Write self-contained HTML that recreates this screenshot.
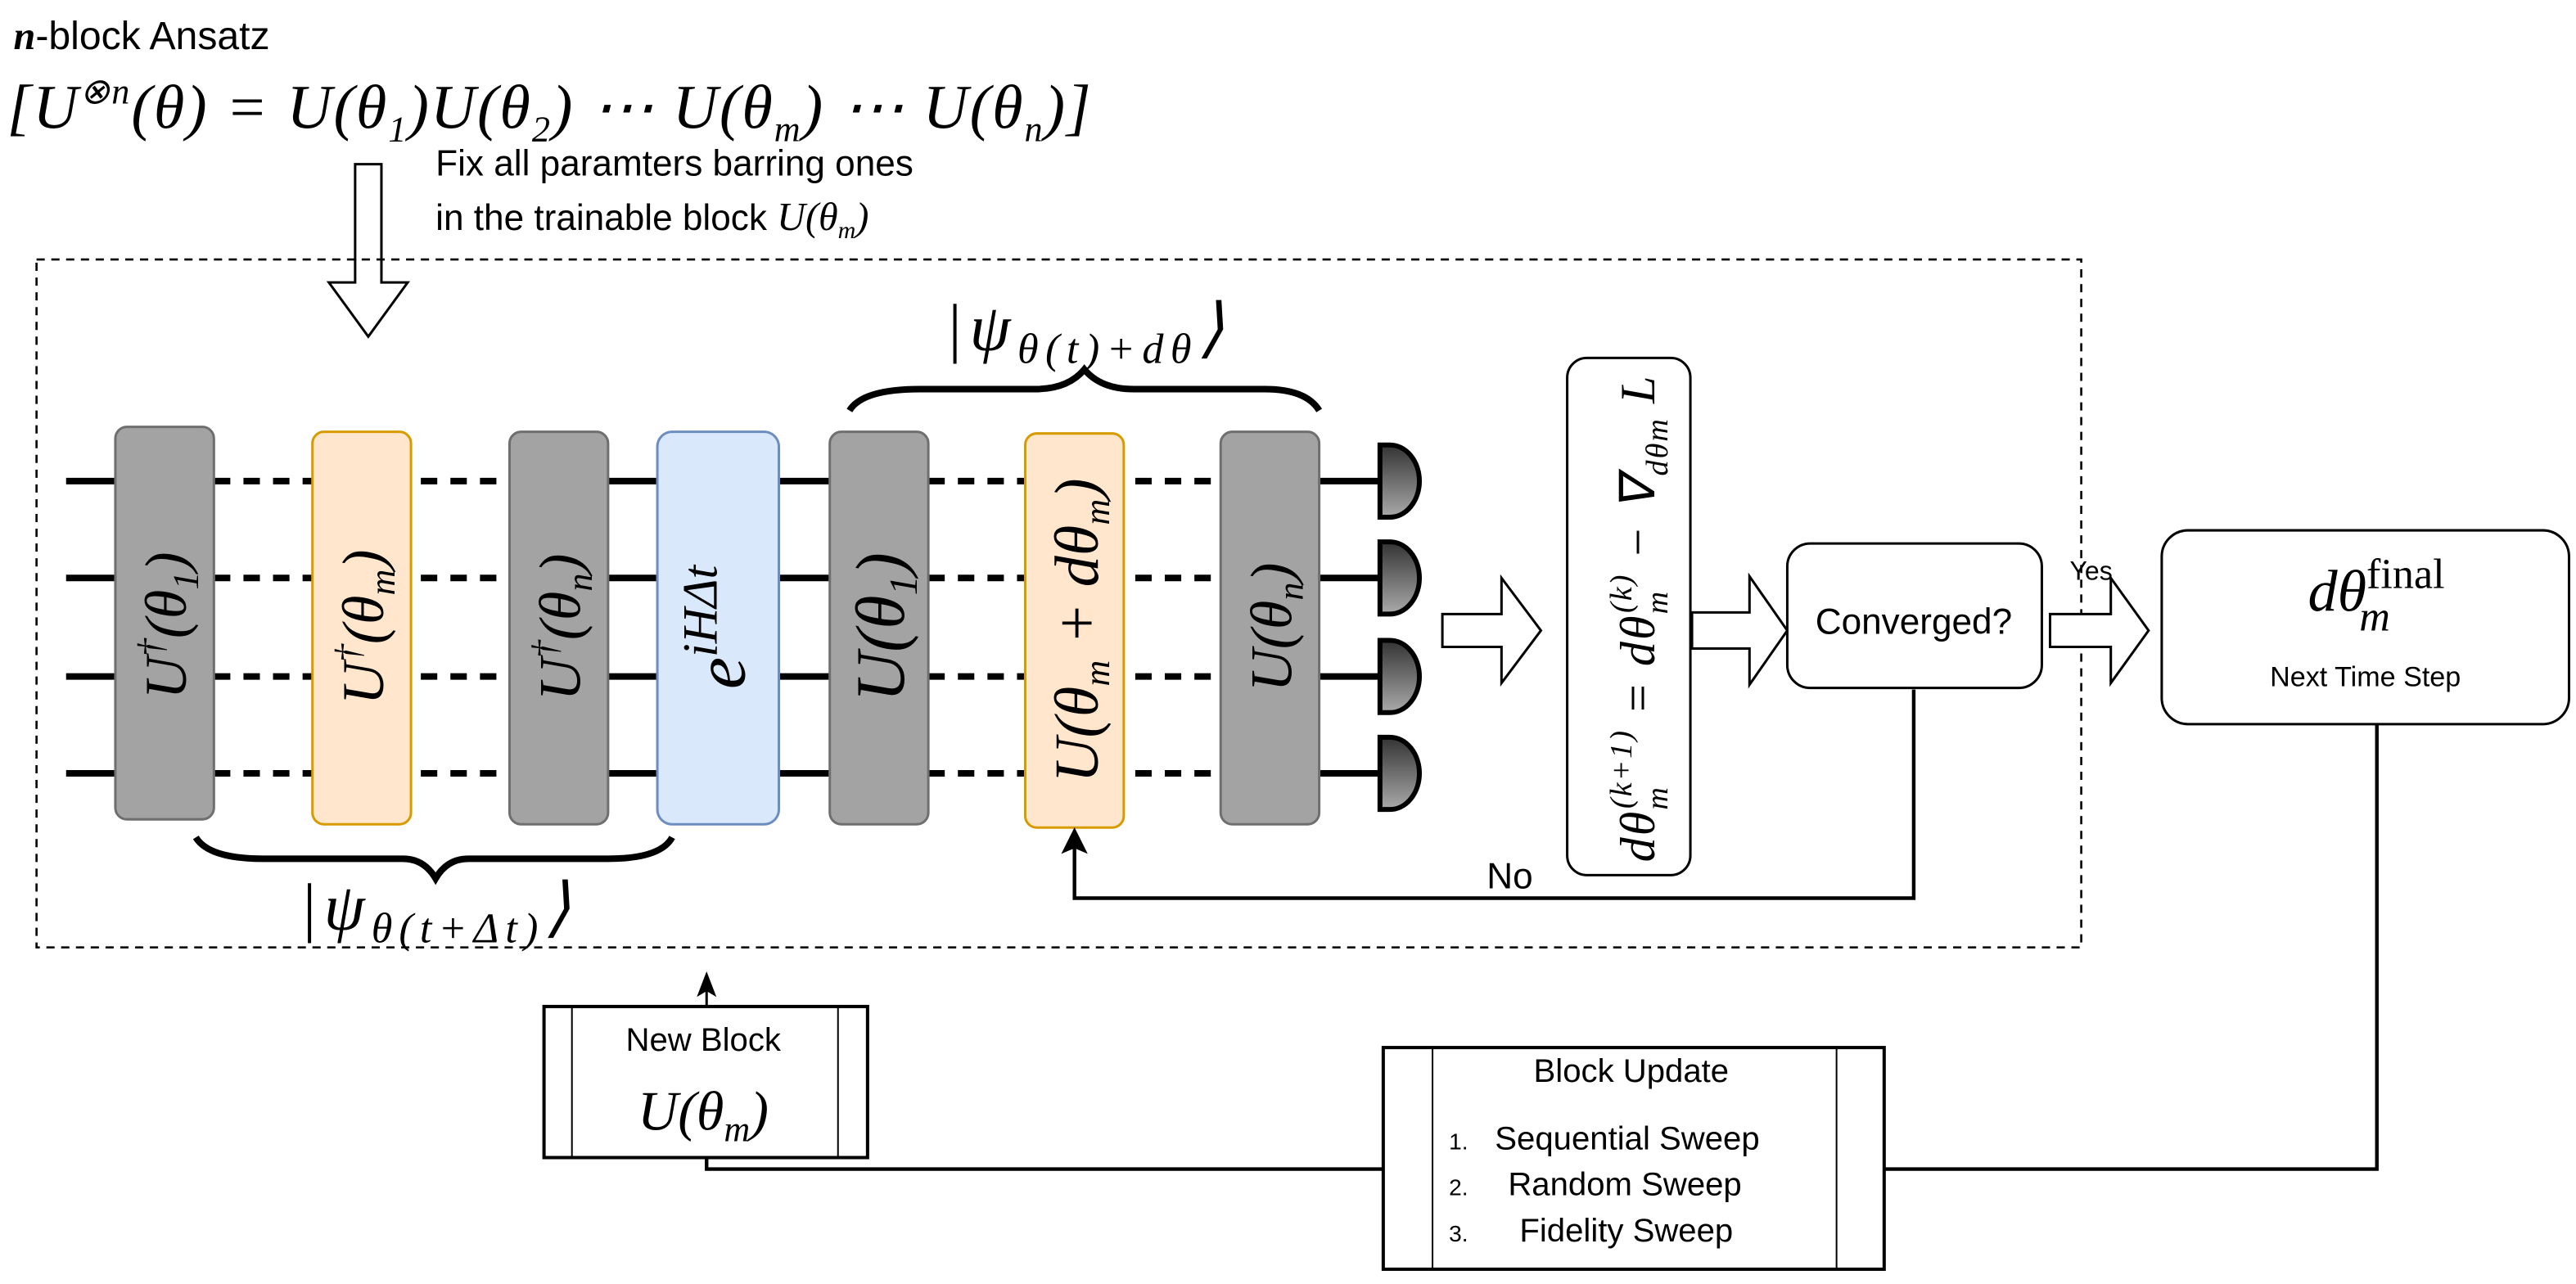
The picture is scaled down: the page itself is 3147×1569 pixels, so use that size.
<!DOCTYPE html>
<html><head><meta charset="utf-8"><style>
html,body{margin:0;padding:0;background:#fff;}
svg{display:block}
.m{font-family:"Liberation Serif",serif;font-style:italic}
.s{font-family:"Liberation Sans",sans-serif}
</style></head><body>
<svg width="3147" height="1569" viewBox="0 0 1568 782" xmlns="http://www.w3.org/2000/svg">
<defs>
<linearGradient id="g" x1="0" y1="0" x2="0" y2="1"><stop offset="0" stop-color="#333"/><stop offset="1" stop-color="#aaa"/></linearGradient>
</defs>
<rect width="1568" height="782" fill="#fff"/>
<!-- title -->
<text x="8" y="30" font-size="24" class="s"><tspan class="m" font-weight="bold">n</tspan>-block Ansatz</text>
<text x="4" y="78" font-size="38" class="m" textLength="660" lengthAdjust="spacing">[U<tspan font-size="22" dy="-15">⊗n</tspan><tspan dy="15">(θ) = U(θ</tspan><tspan font-size="22" dy="8">1</tspan><tspan dy="-8">)U(θ</tspan><tspan font-size="22" dy="8">2</tspan><tspan dy="-8">) ⋯ U(θ</tspan><tspan font-size="22" dy="8">m</tspan><tspan dy="-8">) ⋯ U(θ</tspan><tspan font-size="22" dy="8">n</tspan><tspan dy="-8">)]</tspan></text>
<text x="265" y="107" font-size="22" class="s">Fix all paramters barring ones</text>
<text x="265" y="140" font-size="22" class="s">in the trainable block <tspan class="m" font-size="24">U(θ<tspan font-size="15" dy="5">m</tspan><tspan dy="-5">)</tspan></tspan></text>
<!-- hollow down arrow -->
<path d="M216,100 H232 V172 H248 L224,205 L200,172 H216 Z" fill="#fff" stroke="#000" stroke-width="1.5"/>
<!-- dashed box -->
<rect x="22" y="158" width="1245" height="419" fill="none" stroke="#000" stroke-width="1.3" stroke-dasharray="5,4"/>
<!-- wires -->
<g stroke="#000" stroke-width="4">
<g transform="translate(0,293)">
<line x1="40" y1="0" x2="72" y2="0"/><line x1="130" y1="0" x2="310" y2="0" stroke-dasharray="10,8"/><line x1="368" y1="0" x2="402" y2="0"/><line x1="472" y1="0" x2="507" y2="0"/><line x1="565" y1="0" x2="743" y2="0" stroke-dasharray="10,8"/><line x1="801" y1="0" x2="842" y2="0"/>
</g>
<g transform="translate(0,352)">
<line x1="40" y1="0" x2="72" y2="0"/><line x1="130" y1="0" x2="310" y2="0" stroke-dasharray="10,8"/><line x1="368" y1="0" x2="402" y2="0"/><line x1="472" y1="0" x2="507" y2="0"/><line x1="565" y1="0" x2="743" y2="0" stroke-dasharray="10,8"/><line x1="801" y1="0" x2="842" y2="0"/>
</g>
<g transform="translate(0,412)">
<line x1="40" y1="0" x2="72" y2="0"/><line x1="130" y1="0" x2="310" y2="0" stroke-dasharray="10,8"/><line x1="368" y1="0" x2="402" y2="0"/><line x1="472" y1="0" x2="507" y2="0"/><line x1="565" y1="0" x2="743" y2="0" stroke-dasharray="10,8"/><line x1="801" y1="0" x2="842" y2="0"/>
</g>
<g transform="translate(0,471)">
<line x1="40" y1="0" x2="72" y2="0"/><line x1="130" y1="0" x2="310" y2="0" stroke-dasharray="10,8"/><line x1="368" y1="0" x2="402" y2="0"/><line x1="472" y1="0" x2="507" y2="0"/><line x1="565" y1="0" x2="743" y2="0" stroke-dasharray="10,8"/><line x1="801" y1="0" x2="842" y2="0"/>
</g>
</g>
<!-- gates -->
<rect x="70" y="260" width="60" height="239" rx="7" fill="#a3a3a3" stroke="#6f6f6f" stroke-width="1.5"/>
<rect x="190" y="263" width="60" height="239" rx="7" fill="#ffe6cc" stroke="#d79b00" stroke-width="1.5"/>
<rect x="310" y="263" width="60" height="239" rx="7" fill="#a3a3a3" stroke="#6f6f6f" stroke-width="1.5"/>
<rect x="400" y="263" width="74" height="239" rx="9" fill="#dae8fc" stroke="#6c8ebf" stroke-width="1.5"/>
<rect x="505" y="263" width="60" height="239" rx="7" fill="#a3a3a3" stroke="#6f6f6f" stroke-width="1.5"/>
<rect x="624" y="264" width="60" height="240" rx="7" fill="#ffe6cc" stroke="#d79b00" stroke-width="1.5"/>
<rect x="743" y="263" width="60" height="239" rx="7" fill="#a3a3a3" stroke="#6f6f6f" stroke-width="1.5"/>
<g class="m" font-size="36" text-anchor="middle">
<text transform="translate(113,381) rotate(-90)">U<tspan font-size="22" dy="-14">†</tspan><tspan dy="14">(θ</tspan><tspan font-size="22" dy="7">1</tspan><tspan dy="-7">)</tspan></text>
<text transform="translate(233,382) rotate(-90)">U<tspan font-size="22" dy="-14">†</tspan><tspan dy="14">(θ</tspan><tspan font-size="22" dy="7">m</tspan><tspan dy="-7">)</tspan></text>
<text transform="translate(353,382) rotate(-90)">U<tspan font-size="22" dy="-14">†</tspan><tspan dy="14">(θ</tspan><tspan font-size="22" dy="7">n</tspan><tspan dy="-7">)</tspan></text>
<text transform="translate(453,382) rotate(-90)" font-size="44">e<tspan font-size="30" dy="-17">iHΔt</tspan></text>
<text transform="translate(550,382) rotate(-90)" font-size="42">U(θ<tspan font-size="24" dy="8">1</tspan><tspan dy="-8">)</tspan></text>
<text transform="translate(668,384) rotate(-90)" font-size="38">U(θ<tspan font-size="22" dy="7">m</tspan><tspan dy="-7"> + dθ</tspan><tspan font-size="22" dy="7">m</tspan><tspan dy="-7">)</tspan></text>
<text transform="translate(786,382) rotate(-90)">U(θ<tspan font-size="22" dy="7">n</tspan><tspan dy="-7">)</tspan></text>
</g>
<!-- measurements -->
<g fill="url(#g)" stroke="#000" stroke-width="3">
<path d="M840,271 h6 a18,22 0 0 1 0,44 h-6 Z"/>
<path d="M840,330 h6 a18,22 0 0 1 0,44 h-6 Z"/>
<path d="M840,390 h6 a18,22 0 0 1 0,44 h-6 Z"/>
<path d="M840,449 h6 a18,22 0 0 1 0,44 h-6 Z"/>
</g>
<!-- braces -->
<path d="M517,250 Q525,237 560,237 H630 Q650,237 660,225 Q670,237 690,237 H770 Q795,237 803,250" fill="none" stroke="#000" stroke-width="4"/>
<text x="575" y="213" font-size="40" class="m" textLength="170" lengthAdjust="spacing">|ψ<tspan font-size="26" dy="8">θ(t)+dθ</tspan><tspan dy="-8">⟩</tspan></text>
<path d="M119,510 Q127,523 160,523 H245 Q258,523 265,535 Q272,523 285,523 H370 Q402,523 409,510" fill="none" stroke="#000" stroke-width="4"/>
<text x="182" y="566" font-size="40" class="m" textLength="165" lengthAdjust="spacing">|ψ<tspan font-size="26" dy="8">θ(t+Δt)</tspan><tspan dy="-8">⟩</tspan></text>
<!-- hollow right arrows -->
<path d="M878,374 H914 V352 L938,384 L914,416 V394 H878 Z" fill="#fff" stroke="#000" stroke-width="1.5"/>
<path d="M1030,373 H1065 V351 L1088,384 L1065,417 V395 H1030 Z" fill="#fff" stroke="#000" stroke-width="1.5"/>
<path d="M1248,374 H1285 V352 L1308,384 L1285,416 V394 H1248 Z" fill="#fff" stroke="#000" stroke-width="1.5"/>
<!-- formula box -->
<rect x="954" y="218" width="75" height="315" rx="12" fill="#fff" stroke="#000" stroke-width="1.5"/>
<text transform="translate(1007,377) rotate(-90)" text-anchor="middle" font-size="30" class="m" textLength="296" lengthAdjust="spacing">dθ<tspan font-size="19" dy="8">m</tspan><tspan font-size="19" dx="-14" dy="-22">(k+1)</tspan><tspan dy="14"> = dθ</tspan><tspan font-size="19" dy="8">m</tspan><tspan font-size="19" dx="-14" dy="-22">(k)</tspan><tspan dy="14"> − ∇</tspan><tspan font-size="19" dy="8">dθm</tspan><tspan dy="-8"> L</tspan></text>
<!-- converged -->
<rect x="1088" y="331" width="155" height="88" rx="14" fill="#fff" stroke="#000" stroke-width="1.5"/>
<text x="1165" y="386" text-anchor="middle" font-size="22" class="s">Converged?</text>
<text x="1273" y="353" text-anchor="middle" font-size="16" class="s">Yes</text>
<!-- final box -->
<rect x="1316" y="323" width="248" height="118" rx="16" fill="#fff" stroke="#000" stroke-width="1.5"/>
<text x="1405" y="372" font-size="36" class="m">dθ<tspan font-size="26" dy="-14" font-style="normal">final</tspan><tspan font-size="26" dx="-52" dy="26">m</tspan></text>
<text x="1440" y="418" text-anchor="middle" font-size="17" class="s">Next Time Step</text>
<!-- No loop -->
<path d="M1165,420 V547 H654 V515" fill="none" stroke="#000" stroke-width="2.2"/>
<path d="M654,505 L647,519 L654,516 L661,519 Z" fill="#000" stroke="#000"/>
<text x="905" y="541" font-size="22" class="s">No</text>
<!-- bottom lines -->
<path d="M1447,441 V712 H1147" fill="none" stroke="#000" stroke-width="2.2"/>
<path d="M842,712 H430 V705" fill="none" stroke="#000" stroke-width="2.2"/>
<path d="M430,613 V602" fill="none" stroke="#000" stroke-width="1.5"/>
<path d="M430,593 L425,606 L430,603 L435,606 Z" fill="#000" stroke="#000"/>
<!-- new block -->
<rect x="331" y="613" width="197" height="92" fill="#fff" stroke="#000" stroke-width="2"/>
<line x1="348" y1="613" x2="348" y2="705" stroke="#000" stroke-width="1"/>
<line x1="510" y1="613" x2="510" y2="705" stroke="#000" stroke-width="1"/>
<text x="428" y="640" text-anchor="middle" font-size="20" class="s">New Block</text>
<text x="388" y="688" font-size="34" class="m">U(θ<tspan font-size="22" dy="7">m</tspan><tspan dy="-7">)</tspan></text>
<!-- block update -->
<rect x="842" y="638" width="305" height="135" fill="#fff" stroke="#000" stroke-width="2"/>
<line x1="872" y1="638" x2="872" y2="773" stroke="#000" stroke-width="1"/>
<line x1="1118" y1="638" x2="1118" y2="773" stroke="#000" stroke-width="1"/>
<text x="993" y="659" text-anchor="middle" font-size="20" class="s">Block Update</text>
<g class="s" font-size="20">
<text x="882" y="700"><tspan font-size="14">1.</tspan> <tspan x="910">Sequential Sweep</tspan></text>
<text x="882" y="728"><tspan font-size="14">2.</tspan> <tspan x="918">Random Sweep</tspan></text>
<text x="882" y="756"><tspan font-size="14">3.</tspan> <tspan x="925">Fidelity Sweep</tspan></text>
</g>
</svg>
</body></html>
